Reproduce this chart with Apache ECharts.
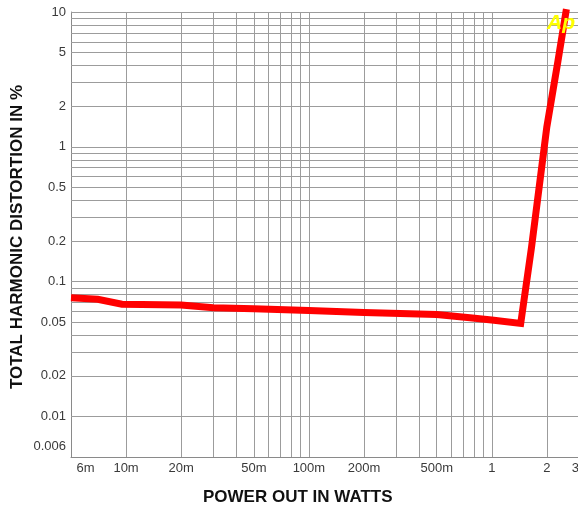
<!DOCTYPE html>
<html>
<head>
<meta charset="utf-8">
<script src="https://cdn.jsdelivr.net/npm/echarts@6/dist/echarts.min.js"></script>
<style>html,body{margin:0;padding:0;background:#fff}#c{width:578px;height:516px}</style>
</head>
<body>
<div id="c"></div>
<script>
// ---- data ----
const powerW = [0.005, 0.007, 0.0095, 0.02, 0.03, 0.05, 0.1, 0.2, 0.5, 0.76, 1.0, 1.44, 1.65, 2.0, 2.3, 2.56];
const thdPct = [0.076, 0.074, 0.068, 0.067, 0.064, 0.063, 0.061, 0.059, 0.057, 0.054, 0.052, 0.049, 0.18, 1.4, 4.3, 10.5];

const xTickValues = [0.006, 0.01, 0.02, 0.05, 0.1, 0.2, 0.5, 1, 2, 3];
const xTickLabels = ['6m', '10m', '20m', '50m', '100m', '200m', '500m', '1', '2', '3'];
const yTickValues = [0.006, 0.01, 0.02, 0.05, 0.1, 0.2, 0.5, 1, 2, 5, 10];
const yTickLabels = ['0.006', '0.01', '0.02', '0.05', '0.1', '0.2', '0.5', '1', '2', '5', '10'];

const xGridValues = [0.006, 0.007, 0.008, 0.009, 0.01, 0.02, 0.03, 0.04, 0.05, 0.06, 0.07, 0.08, 0.09,
  0.1, 0.2, 0.3, 0.4, 0.5, 0.6, 0.7, 0.8, 0.9, 1, 2];
const yGridValues = [0.006, 0.007, 0.008, 0.009, 0.01, 0.02, 0.03, 0.04, 0.05, 0.06, 0.07, 0.08, 0.09,
  0.1, 0.2, 0.3, 0.4, 0.5, 0.6, 0.7, 0.8, 0.9, 1, 2, 3, 4, 5, 6, 7, 8, 9, 10];

function labelFor(vals, labs, v) {
  let best = 0, bd = Infinity;
  for (let i = 0; i < vals.length; i++) {
    const d = Math.abs(Math.log(vals[i]) - Math.log(v));
    if (d < bd) { bd = d; best = i; }
  }
  return labs[best];
}

const chart = echarts.init(document.getElementById('c'), null, { renderer: 'canvas' });
const gridColor = '#9c9c9c';
const font = 'Liberation Sans, Arial, sans-serif';

chart.setOption({
  animation: false,
  backgroundColor: '#ffffff',
  grid: { left: 71, top: 12, width: 508, height: 445, containLabel: false, outerBoundsMode: 'none' },
  xAxis: {
    type: 'log', logBase: 10, min: 0.005, max: 3,
    axisLine: { show: true, lineStyle: { color: '#8a8a8a', width: 1 } },
    axisTick: { show: false },
    splitLine: { show: false },
    minorSplitLine: { show: false },
    axisLabel: {
      customValues: xTickValues,
      formatter: v => labelFor(xTickValues, xTickLabels, v),
      color: '#3a3a3a', fontSize: 13, fontFamily: font, margin: 5,
      alignMaxLabel: 'right', showMinLabel: true, showMaxLabel: true
    }
  },
  yAxis: {
    type: 'log', logBase: 10, min: 0.005, max: 10,
    axisLine: { show: true, lineStyle: { color: '#8a8a8a', width: 1 } },
    axisTick: { show: false },
    splitLine: { show: false },
    axisLabel: {
      customValues: yTickValues,
      formatter: v => labelFor(yTickValues, yTickLabels, v),
      color: '#3a3a3a', fontSize: 13, fontFamily: font, margin: 5,
      showMinLabel: true, showMaxLabel: true
    }
  },
  series: [
    {
      type: 'line', data: [], z: 1, silent: true,
      markLine: {
        silent: true, symbol: 'none', animation: false,
        label: { show: false },
        lineStyle: { color: gridColor, type: 'solid', width: 1 },
        emphasis: { disabled: true },
        data: xGridValues.map(v => ({ xAxis: v })).concat(yGridValues.map(v => ({ yAxis: v })))
      }
    },
    {
      type: 'line', z: 5, clip: false,
      data: powerW.map((p, i) => [p, thdPct[i]]),
      symbol: 'none', smooth: false,
      lineStyle: { color: '#ff0000', width: 7, join: 'miter' }
    }
  ],
  graphic: [
    {
      type: 'text', left: 9, top: 85, rotation: Math.PI / 2, z: 10,
      style: { text: 'TOTAL HARMONIC DISTORTION IN %', fill: '#111', font: 'bold 17px ' + font }
    },
    {
      type: 'text', z: 10,
      left: 203, top: 489,
      style: { text: 'POWER OUT IN WATTS', fill: '#111', font: 'bold 17px ' + font }
    },
    {
      type: 'text', z: 20, left: 547, top: 13,
      style: { text: 'Ap', fill: '#ffff00', font: 'italic bold 21px ' + font }
    }
  ]
});
</script>
</body>
</html>
